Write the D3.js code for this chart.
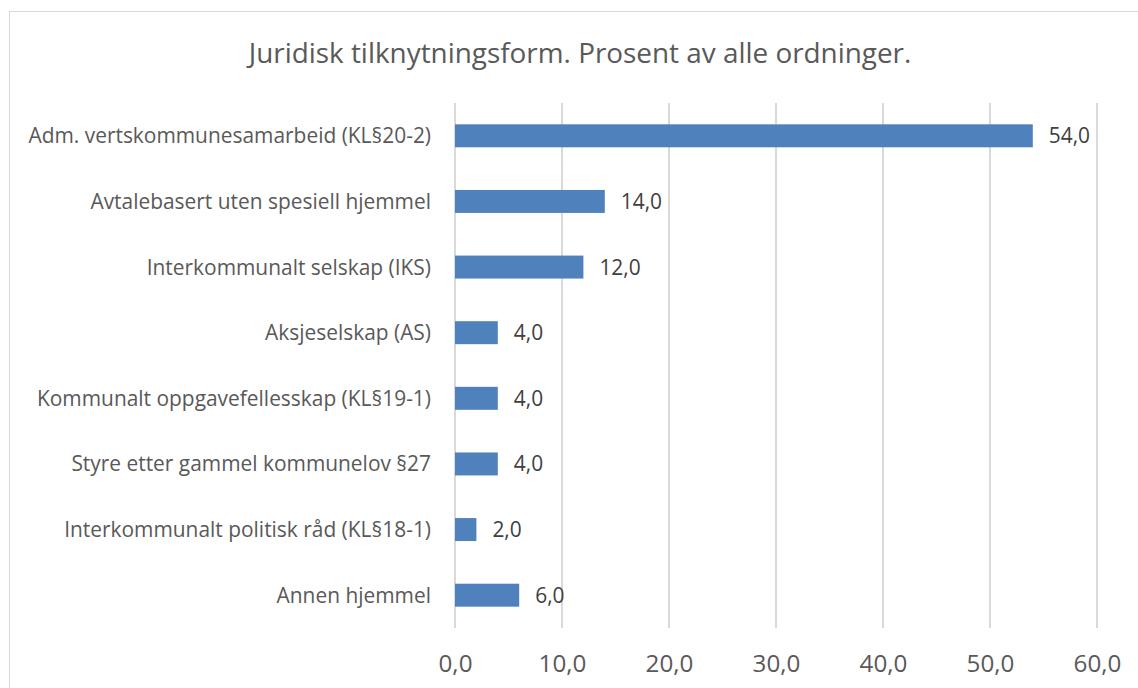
<!DOCTYPE html>
<html>
<head>
<meta charset="utf-8">
<script src="https://cdn.jsdelivr.net/npm/d3@7"></script>
<style>
  html, body { margin: 0; padding: 0; background: #fff; }
  svg { display: block; font-family: "Open Sans", sans-serif; }
</style>
</head>
<body>
<svg id="chart" width="1138" height="688"></svg>
<script>
const title = "Juridisk tilknytningsform. Prosent av alle ordninger.";
const categories = [
  "Adm. vertskommunesamarbeid (KL§20-2)",
  "Avtalebasert uten spesiell hjemmel",
  "Interkommunalt selskap (IKS)",
  "Aksjeselskap (AS)",
  "Kommunalt oppgavefellesskap (KL§19-1)",
  "Styre etter gammel kommunelov §27",
  "Interkommunalt politisk råd (KL§18-1)",
  "Annen hjemmel"
];
const values = [54.0, 14.0, 12.0, 4.0, 4.0, 4.0, 2.0, 6.0];
const tickValues = [0, 10, 20, 30, 40, 50, 60];

const fmt = v => d3.format(".1f")(v).replace(".", ",");

const svg = d3.select("#chart");
const W = 1138, H = 688;
const margin = { left: 455, right: 41, top: 103, bottom: 60 };

// chart border
svg.append("rect")
  .attr("x", 9.5).attr("y", 11.5)
  .attr("width", W - 9).attr("height", H - 11)
  .attr("fill", "#fff").attr("stroke", "#d9d9d9").attr("stroke-width", 1);

const x = d3.scaleLinear().domain([0, 60]).range([margin.left, W - margin.right]);
const y = d3.scaleBand().domain(categories).range([margin.top, H - margin.bottom]).paddingInner(0.65).paddingOuter(0.325);

// gridlines
svg.append("g").selectAll("line").data(tickValues).join("line")
  .attr("x1", d => x(d)).attr("x2", d => x(d))
  .attr("y1", margin.top).attr("y2", H - margin.bottom)
  .attr("stroke", "#d9d9d9").attr("stroke-width", 2);

// helper: fit font-size to a target width
function fit(sel, target) {
  sel.style("font-size", "20px");
  const w = sel.node().getComputedTextLength();
  const fs = 20 * target / w;
  sel.style("font-size", fs + "px");
  return fs;
}

// title
const t = svg.append("text").attr("x", 580).attr("y", 63)
  .attr("text-anchor", "middle").attr("fill", "#595959").text(title);
fit(t, 663);

// bars
svg.append("g").selectAll("rect").data(values).join("rect")
  .attr("x", x(0))
  .attr("y", (d, i) => y(categories[i]))
  .attr("width", d => x(d) - x(0))
  .attr("height", y.bandwidth())
  .attr("fill", "#4f81bd");

// category labels
const labG = svg.append("g");
const longest = labG.append("text").text(categories[0]);
const labFs = fit(longest, 403);
longest.remove();
labG.selectAll("text").data(categories).join("text")
  .attr("x", 431)
  .attr("y", d => y(d) + y.bandwidth() / 2)
  .attr("dy", "0.36em")
  .attr("text-anchor", "end")
  .attr("fill", "#595959")
  .style("font-size", labFs + "px")
  .text(d => d);

// value labels
svg.append("g").selectAll("text").data(values).join("text")
  .attr("x", d => x(d) + 16)
  .attr("y", (d, i) => y(categories[i]) + y.bandwidth() / 2)
  .attr("dy", "0.36em")
  .attr("fill", "#404040")
  .style("font-size", labFs + "px")
  .text(d => fmt(d));

// x axis
const probe = svg.append("text").text(fmt(0));
const tickFs = fit(probe, 34);
probe.remove();
const axis = d3.axisBottom(x).tickValues(tickValues).tickFormat(fmt).tickSize(0).tickPadding(0);
const ax = svg.append("g").attr("transform", `translate(0,${H - margin.bottom})`).call(axis);
ax.select(".domain").remove();
ax.selectAll("text")
  .attr("y", 44).attr("dy", 0)
  .attr("fill", "#595959")
  .style("font-family", "'Open Sans', sans-serif")
  .style("font-size", tickFs + "px");
</script>
</body>
</html>
